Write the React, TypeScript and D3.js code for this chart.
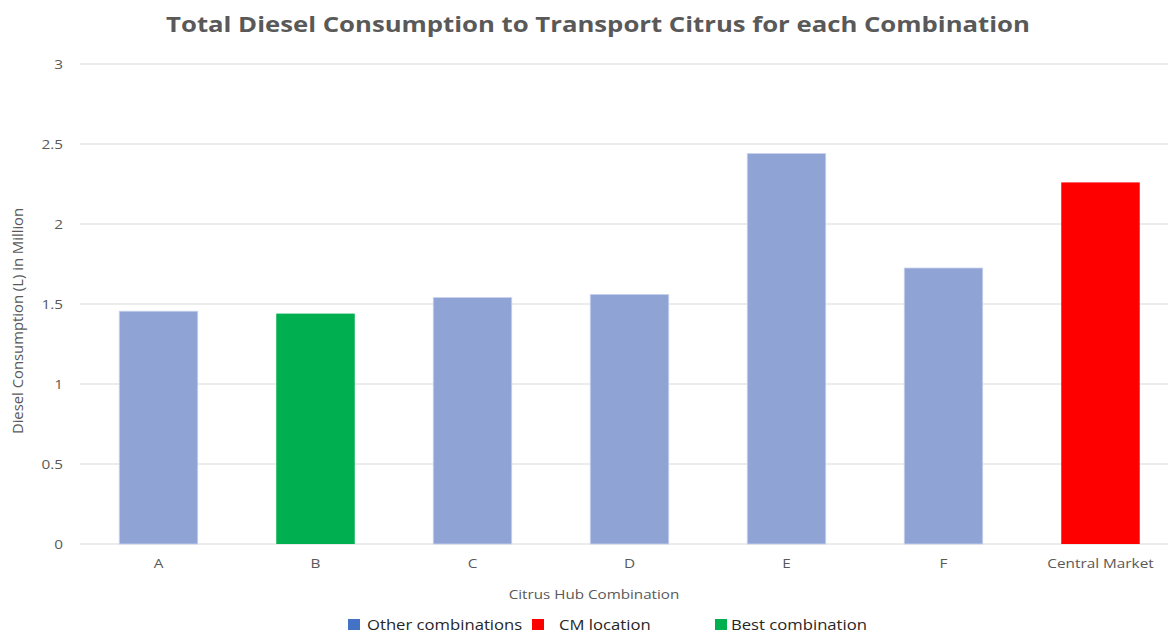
import React from 'react';
import * as d3 from 'd3';

const categories = ['A', 'B', 'C', 'D', 'E', 'F', 'Central Market'];
const values = [1.455, 1.44, 1.54, 1.56, 2.44, 1.725, 2.26];
const barKinds = ['other', 'best', 'other', 'other', 'other', 'other', 'cm'];
const yTicks = [0, 0.5, 1, 1.5, 2, 2.5, 3];
const legendItems = [
  { label: 'Other combinations', kind: 'otherLegend' },
  { label: 'CM location', kind: 'cm' },
  { label: 'Best combination', kind: 'best' },
];

const colors: Record<string, string> = {
  other: '#8FA4D4',
  otherLegend: '#4472C4',
  best: '#00B050',
  cm: '#FF0000',
};

function SText(props: { x: number; y: number; sx?: number; rotate?: number; children: React.ReactNode; [k: string]: any }) {
  const { x, y, sx = 1.18, rotate = 0, children, ...rest } = props;
  return (
    <text transform={`translate(${x},${y}) rotate(${rotate}) scale(${sx},1)`} {...rest}>
      {children}
    </text>
  );
}

export default function App() {
  const W = 1168, H = 635;
  const x = d3.scaleBand<string>().domain(categories).range([80, 1179]).paddingInner(0.5).paddingOuter(0.25);
  const y = d3.scaleLinear().domain([0, 3]).range([544, 64]);
  const font = '"Open Sans", sans-serif';
  const gray = '#595959';
  const legendX = [348, 532, 715];
  const legendTextX = [367, 559, 731];
  return (
    <svg width={W} height={H} style={{ position: 'absolute', left: 0, top: 0, background: '#fff' }} fontFamily={font}>
      <rect x={0} y={0} width={W} height={H} fill="#fff" />
      <SText x={598} y={32} sx={1.225} textAnchor="middle" fontSize={21} fontWeight="bold" fill={gray}>
        Total Diesel Consumption to Transport Citrus for each Combination
      </SText>
      {yTicks.map(t => (
        <g key={t}>
          <line x1={80} x2={1168} y1={y(t)} y2={y(t)} stroke="#d9d9d9" strokeWidth={1} />
          <SText x={63} y={y(t) + 5} textAnchor="end" fontSize={13} fill={gray}>{t}</SText>
        </g>
      ))}
      {categories.map((c, i) => (
        <rect key={c} x={x(c)!} y={y(values[i])} width={x.bandwidth()} height={y(0) - y(values[i])}
          fill={colors[barKinds[i]]} stroke={barKinds[i] === 'other' ? '#c9d3ee' : 'none'} strokeWidth={0.8} />
      ))}
      {categories.map(c => (
        <SText key={c} x={x(c)! + x.bandwidth() / 2} y={568} textAnchor="middle" fontSize={13} fill={gray}>{c}</SText>
      ))}
      <text transform={`translate(23,321) rotate(-90) scale(1.06,1)`} textAnchor="middle" fontSize={14} fill={gray}>
        Diesel Consumption  (L) in Million
      </text>
      <SText x={594} y={599} sx={1.17} textAnchor="middle" fontSize={13} fill={gray}>Citrus Hub Combination</SText>
      {legendItems.map((it, i) => (
        <g key={it.label}>
          <rect x={legendX[i]} y={619} width={12} height={11} fill={colors[it.kind]} />
          <SText x={legendTextX[i]} y={630} sx={1.15} fontSize={14.5} fill="#262626">{it.label}</SText>
        </g>
      ))}
    </svg>
  );
}
